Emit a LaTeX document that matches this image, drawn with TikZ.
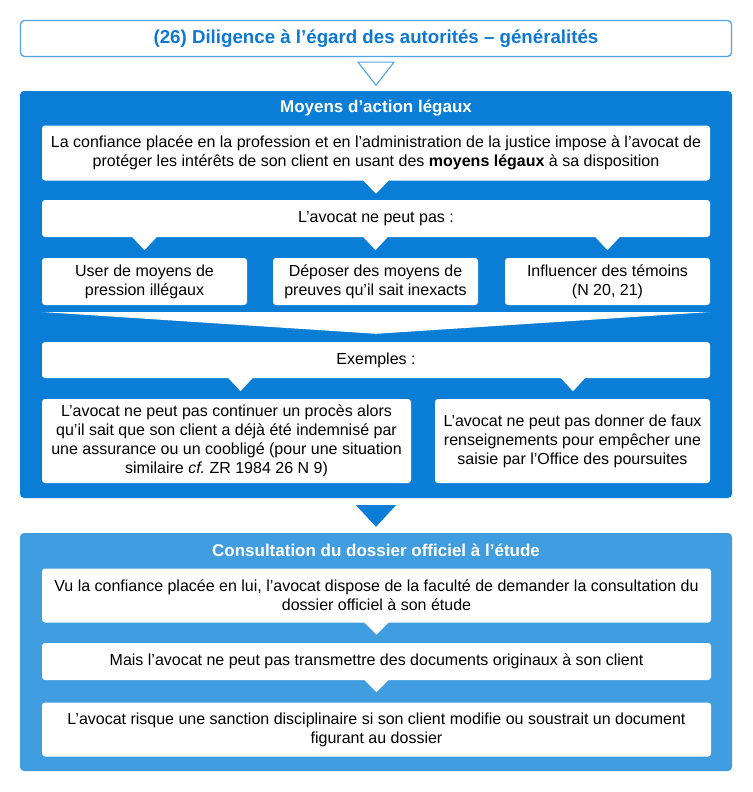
\documentclass[tikz,border=0pt]{standalone}
\usepackage{fontspec}
\setmainfont{Liberation Sans}
\usetikzlibrary{calc}
\definecolor{dblue}{RGB}{10,125,215}
\definecolor{lblue}{RGB}{64,157,224}
\definecolor{tborder}{RGB}{80,165,228}
\definecolor{ttext}{RGB}{12,120,210}
\begin{document}
\begin{tikzpicture}[x=1pt,y=-1pt,
  wbox/.style={fill=white,rounded corners=3pt,inner sep=0pt,align=center,
    font=\fontsize{16}{19}\selectfont,text=black},
  ptitle/.style={font=\bfseries\fontsize{17}{20}\selectfont,text=white},
  panel/.style={rounded corners=4pt,inner sep=0pt},
  tri/.style={fill=white,draw=none}]
\useasboundingbox (0,0) rectangle (752,792);
\fill[white] (0,0) rectangle (752,792);
% title
\node[draw=tborder,line width=1.3pt,rounded corners=4pt,minimum width=711pt,minimum height=36pt,inner sep=0pt,
  text=ttext,font=\bfseries\fontsize{18.7}{22}\selectfont] (title) at (376,38.5) {\raisebox{-1.5pt}{(26) Diligence à l’égard des autorités – généralités}};
% panel 1
\node[panel,fill=dblue,minimum width=712pt,minimum height=407pt] (p1) at (376,294.5) {};
\node[ptitle] (p1t) at (376,108.5) {Moyens d’action légaux};
% hollow triangle connector
\draw[tborder,line width=1.1pt,line join=miter] ($(title.south)+(-18,5)$) -- ($(title.south)+(18,5)$) -- ($(p1.north)+(0,-5.5)$) -- cycle;
\node[wbox,minimum width=668pt,minimum height=55pt] (b1) at (376,153) {La confiance placée en la profession et en l’administration de la justice impose à l’avocat de\\protéger les intérêts de son client en usant des \textbf{moyens légaux} à sa disposition};
\node[wbox,minimum width=668pt,minimum height=37pt] (b2) at (376,218.5) {L’avocat ne peut pas :};
\fill[white] ($(b1.south)+(-13,-0.5)$) -- ($(b1.south)+(13,-0.5)$) -- ($(b1.south)+(0,13)$) -- cycle;
\node[wbox,minimum width=205pt,minimum height=47pt] (b3a) at (144.5,281.5) {User de moyens de\\pression illégaux};
\node[wbox,minimum width=205pt,minimum height=47pt] (b3b) at (375.5,281.5) {Déposer des moyens de\\preuves qu’il sait inexacts};
\node[wbox,minimum width=205pt,minimum height=47pt] (b3c) at (607.5,281.5) {Influencer des témoins\\(N 20, 21)};
\foreach \n in {b3a,b3b,b3c}{
  \fill[white] (\n.north |- b2.south) ++(-12.5,-0.5) -- ++(25,0) -- ($(\n.north |- b2.south)+(0,13)$) -- cycle;
}
% chevron
\node[wbox,minimum width=668pt,minimum height=36pt] (b4) at (376,360) {Exemples :};
\fill[white] (b3a.south west |- 0,312) -- (b3c.south east |- 0,312) -- ($(b4.north)+(0,-8)$) -- cycle;
\node[wbox,minimum width=369pt,minimum height=84pt] (b5a) at (226.5,441) {L’avocat ne peut pas continuer un procès alors\\qu’il sait que son client a déjà été indemnisé par\\une assurance ou un coobligé (pour une situation\\similaire \textit{cf.}\ ZR 1984 26 N 9)};
\node[wbox,minimum width=275pt,minimum height=84pt] (b5b) at (572.5,441) {L’avocat ne peut pas donner de faux\\renseignements pour empêcher une\\saisie par l’Office des poursuites};
\fill[white] ($(b4.south)+(-148,-0.5)$) -- ++(25,0) -- ($(b4.south)+(-135.5,13)$) -- cycle;
\fill[white] ($(b4.south)+(184.5,-0.5)$) -- ++(25,0) -- ($(b4.south)+(197,13)$) -- cycle;
% panel 2
\node[panel,fill=lblue,minimum width=712pt,minimum height=238pt] (p2) at (376,652) {};
\fill[dblue] ($(p1.south)+(-20,7)$) -- ($(p1.south)+(20,7)$) -- ($(p2.north)+(0,-6)$) -- cycle;
\node[ptitle] (p2t) at (376,550.5) {Consultation du dossier officiel à l’étude};
\node[wbox,minimum width=669pt,minimum height=54pt] (c1) at (376.5,595.5) {Vu la confiance placée en lui, l’avocat dispose de la faculté de demander la consultation du\\dossier officiel à son étude};
\node[wbox,minimum width=669pt,minimum height=37pt] (c2) at (376.5,661.5) {Mais l’avocat ne peut pas transmettre des documents originaux à son client};
\node[wbox,minimum width=669pt,minimum height=54pt] (c3) at (376.5,729.5) {L’avocat risque une sanction disciplinaire si son client modifie ou soustrait un document\\figurant au dossier};
\fill[white] ($(c1.south)+(-12.5,-0.5)$) -- ++(25,0) -- ($(c1.south)+(0,12)$) -- cycle;
\fill[white] ($(c2.south)+(-12.5,-0.5)$) -- ++(25,0) -- ($(c2.south)+(0,12)$) -- cycle;
\end{tikzpicture}
\end{document}
